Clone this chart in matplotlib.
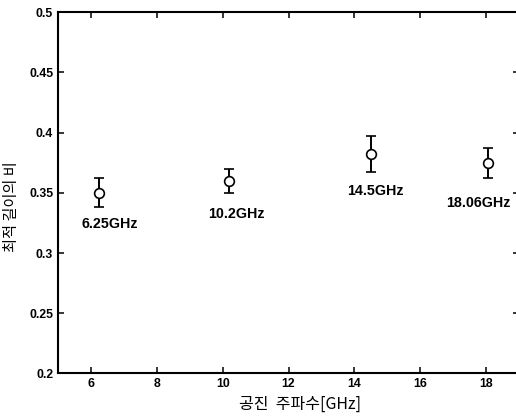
import matplotlib
matplotlib.use('Agg')
import matplotlib.pyplot as plt

# 공진 주파수별 최적 길이의 비 (값은 그림에서 읽음)
freq = [6.25, 10.2, 14.5, 18.06]
ratio = [0.350, 0.360, 0.382, 0.375]
err = [0.012, 0.010, 0.015, 0.0125]
point_labels = ['6.25GHz', '10.2GHz', '14.5GHz', '18.06GHz']
xticks = [6, 8, 10, 12, 14, 16, 18]
yticks = [0.2, 0.25, 0.3, 0.35, 0.4, 0.45, 0.5]
ytick_labels = ['0.2', '0.25', '0.3', '0.35', '0.4', '0.45', '0.5']

# 라벨 위치 (점 기준 pixel offset)
label_off = [(10, -31), (7, -33), (5, -37), (-10, -40)]

plt.rcParams['font.family'] = ['Liberation Sans', 'Noto Sans CJK KR']

fig = plt.figure(figsize=(5.16, 4.2), dpi=100)
ax = fig.add_axes([0.1126, 0.111, 0.8932, 0.8597])

ax.errorbar(freq, ratio, yerr=err, fmt='o', mfc='white', mec='black', ecolor='black',
            color='black', ms=7, mew=1.2, elinewidth=1.4, capsize=3.5, capthick=1.4)
for x, y, t, (dx, dy) in zip(freq, ratio, point_labels, label_off):
    ax.annotate(t, (x, y), xytext=(dx, dy), textcoords='offset pixels',
                ha='center', va='center', fontsize=10.3, fontweight='bold')

ax.set_xlim(5, 19)
ax.set_ylim(0.2, 0.5)
ax.set_xticks(xticks)
ax.set_yticks(yticks)
ax.set_yticklabels(ytick_labels)
ax.tick_params(direction='in', top=True, right=True, labelsize=8.8, length=4, width=1.1)
for lab in ax.get_xticklabels() + ax.get_yticklabels():
    lab.set_fontweight('bold')
for s in ax.spines.values():
    s.set_linewidth(1.5)

ax.set_xlabel('공진  주파수[GHz]', family='Noto Sans CJK KR', fontsize=11.5)
ax.set_ylabel('최적 길이의 비', family='Noto Sans CJK KR', fontsize=11)
ax.xaxis.set_label_coords(0.525, -0.062)
ax.yaxis.set_label_coords(-0.083, 0.463)

fig.savefig('out.png', dpi=100)
